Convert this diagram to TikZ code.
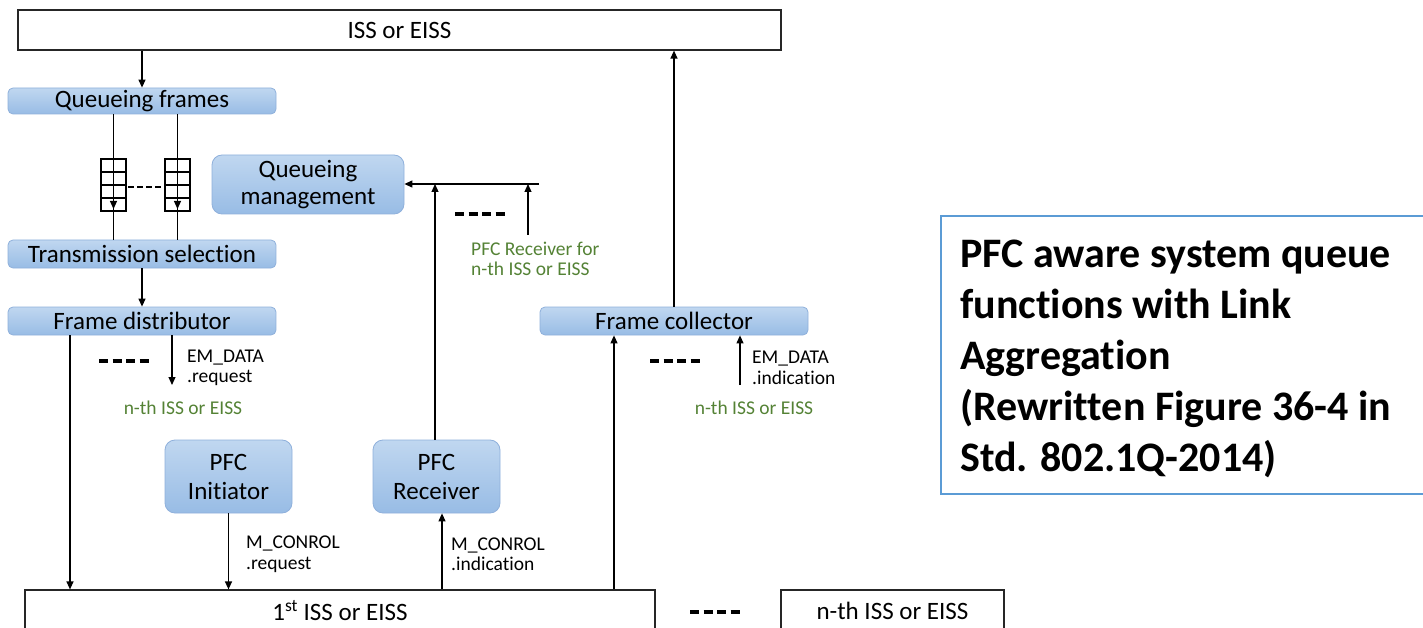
\documentclass[tikz,border=0pt]{standalone}
\usepackage{fontspec}
\setmainfont{Carlito}[Ligatures=NoCommon]
\usepackage{tikz}
\usetikzlibrary{arrows.meta,positioning}
\definecolor{blaatopp}{RGB}{192,215,240}
\definecolor{blaabunn}{RGB}{152,188,229}
\definecolor{blaakant}{RGB}{143,176,219}
\definecolor{gronn}{RGB}{84,130,53}
\definecolor{tittelkant}{RGB}{91,155,213}
\tikzset{
    %Define standard arrow tip
    >={Triangle[length=8pt,width=7pt]},
    %Define style for blue boxes
    blaa/.style={
           rectangle, rounded corners=5pt,
           draw=blaakant, line width=0.8pt,
           top color=blaatopp, bottom color=blaabunn,
           inner sep=0pt, align=center,
           font=\fontsize{25}{27}\selectfont},
    %Define style for plain boxes
    boks/.style={
           rectangle, draw=black!85, line width=1.2pt,
           fill=white, inner sep=0pt,
           font=\fontsize{25}{27}\selectfont},
    % Define arrow style
    pil/.style={
           ->,
           line width=1.2pt},
    merk/.style={anchor=west, align=left, inner sep=0pt,
           font=\fontsize{19.5}{20.5}\selectfont},
    nth/.style={merk, anchor=center, text=gronn},
    strek/.style={line width=3.5pt, dash pattern=on 9pt off 4.5pt}
}
\begin{document}
\begin{tikzpicture}[x=1pt,y=-1pt]
\useasboundingbox (0,0) rectangle (1423,628);
\clip (0,0) rectangle (1423,628);
%Nodes
\node[boks, minimum width=763, minimum height=40] (iss) at (399.5,30) {ISS or EISS};
\node[blaa, minimum width=268, minimum height=26] (qframes) at (142,101) {Queueing frames};
\node[blaa, minimum width=268, minimum height=28] (txsel) at (142,254) {Transmission selection};
\node[blaa, minimum width=268, minimum height=28] (fdist) at (142,321) {Frame distributor};
\node[blaa, minimum width=268, minimum height=28] (fcoll) at (674,321) {Frame collector};
\node[blaa, rounded corners=10pt, minimum width=192, minimum height=59] (qmgmt) at (308,184.5) {Queueing\\management};
\node[blaa, rounded corners=10pt, minimum width=127, minimum height=73,
      font=\fontsize{25}{29}\selectfont] (pfcinit) at (228.5,476.5) {PFC\\Initiator};
\node[blaa, rounded corners=10pt, minimum width=127, minimum height=73,
      font=\fontsize{25}{29}\selectfont] (pfcrecv) at (436.5,476.5) {PFC\\Receiver};
\node[boks, minimum width=630, minimum height=42] (iss1) at (340,611) {1\textsuperscript{st} ISS or EISS};
\node[boks, minimum width=223, minimum height=42] (issn) at (892.5,611) {n-th ISS or EISS};
\node[draw=tittelkant, line width=2pt, anchor=north west,
      minimum width=500, minimum height=278] (tittel) at (940,215) {};
\node[anchor=north west, inner sep=0pt, align=left,
      font=\fontsize{42}{51}\selectfont\bfseries] (tekst) at (960,240)
      {PFC aware system queue\\functions with Link\\Aggregation\\(Rewritten Figure 36-4 in\\Std. 802.1Q-2014)};

%Queues
\foreach \gx in {101,165} {
  \draw[line width=1.1pt] (\gx,159) rectangle ++(25,52);
  \foreach \gy in {172,185,198}
    \draw[line width=1.1pt] (\gx,\gy) -- ++(25,0);
}
\draw[line width=2.8pt, dash pattern=on 6pt off 3pt] (128,187) -- (164,187);

%Points
\coordinate (kq1) at (113.5,209);
\coordinate (kq2) at (177.5,209);
\coordinate (ned) at (70,0);
\coordinate (emreq) at (172,385);
\coordinate (opp1) at (614,0);
\coordinate (emind) at (740,385);
\coordinate (mind) at (442,0);
\coordinate (samle) at (435,184);
\coordinate (hoyre) at (539,184);
\coordinate (pfcn) at (528,235);

%Arrows
\draw[pil] (qframes.north |- iss.south) -- (qframes.north);
\draw[line width=1.2pt] (qframes.south -| kq1) -- (txsel.north -| kq1);
\draw[pil] (qframes.south -| kq1) -- (kq1);
\draw[line width=1.2pt] (qframes.south -| kq2) -- (txsel.north -| kq2);
\draw[pil] (qframes.south -| kq2) -- (kq2);
\draw[pil] (txsel.south) -- (fdist.north);
\draw[pil] (fdist.south -| ned) -- (iss1.north -| ned);
\draw[pil] (fdist.south -| emreq) -- (emreq);
\draw[pil] (pfcinit.south) -- (iss1.north -| pfcinit.south);
\draw[pil] (iss1.north -| mind) -- (pfcrecv.south -| mind);
\draw[pil] (pfcrecv.north -| samle) -- (samle);
\draw[pil] (hoyre) -- (qmgmt.east |- hoyre);
\draw[pil] (pfcn) -- (pfcn |- hoyre);
\draw[pil] (iss1.north -| opp1) -- (fcoll.south -| opp1);
\draw[pil] (emind) -- (fcoll.south -| emind);
\draw[pil] (fcoll.north) -- (iss.south -| fcoll.north);

%Labels
\node[merk] (lreq) at (187,368) {EM\_DATA\\.request};
\node[nth] (lnth1) at (183,408) {n-th ISS or EISS};
\node[merk] (lind) at (752,368) {EM\_DATA\\.indication};
\node[nth] (lnth2) at (754,408) {n-th ISS or EISS};
\node[merk] (lmreq) at (246,554) {M\_CONROL\\.request};
\node[merk] (lmind) at (451,554) {M\_CONROL\\.indication};
\node[merk, text=gronn] (lpfcn) at (471,259) {PFC Receiver for\\n-th ISS or EISS};

%Dashes
\draw[strek] (99,361) -- (148.5,361);
\draw[strek] (455,214) -- (504.5,214);
\draw[strek] (650,361) -- (699.5,361);
\draw[strek] (690,612) -- (739.5,612);
\end{tikzpicture}
\end{document}
